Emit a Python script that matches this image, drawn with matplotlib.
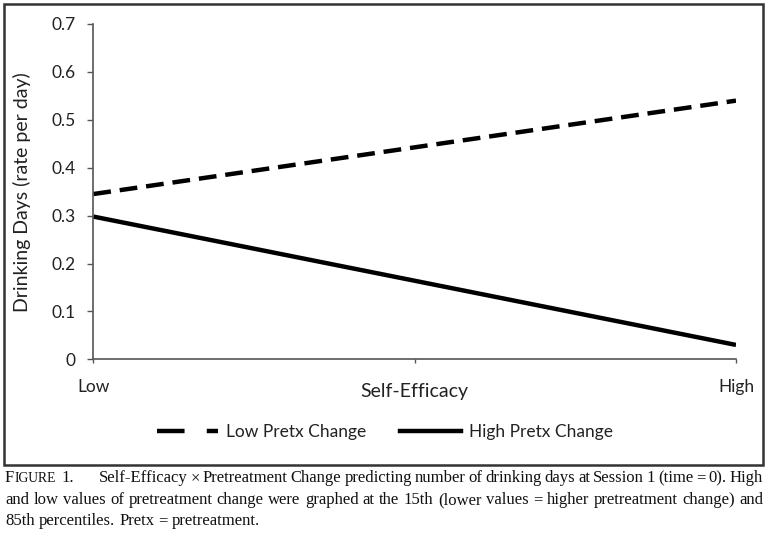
import matplotlib
matplotlib.use("Agg")
import matplotlib.pyplot as plt
from matplotlib.lines import Line2D
from matplotlib.patches import Rectangle

# data
x_labels = ["Low", "", "High"]
x_pos = [0.0, 0.5, 1.0]
efficacy = [0.0, 1.0]
low_pretx = [0.345, 0.540]
high_pretx = [0.298, 0.030]
y_ticks = [0, 0.1, 0.2, 0.3, 0.4, 0.5, 0.6, 0.7]
y_labels = ["0", "0.1", "0.2", "0.3", "0.4", "0.5", "0.6", "0.7"]

caption = [
    "Self-Efficacy \u00d7 Pretreatment Change predicting number of drinking days at Session 1 (time = 0). High",
    "and low values of pretreatment change were graphed at the 15th (lower values = higher pretreatment change) and",
    "85th percentiles. Pretx = pretreatment.",
]

SANS = "Lato"
SERIF = "Liberation Serif"
INK = "#222222"
W, H = 765, 534

fig = plt.figure(figsize=(W / 100, H / 100), dpi=100)
ax_h = 359.3 - 24
ax_w = 736 - 93.3
ax = fig.add_axes([93.3 / W, 1 - 359.3 / H, ax_w / W, ax_h / H])

ax.plot(efficacy, low_pretx, color="black", lw=3.2, dashes=(4.0, 2.0), solid_capstyle="butt")
ax.plot(efficacy, high_pretx, color="black", lw=3.2, solid_capstyle="butt")

ax.set_xlim(0, 1)
ax.set_ylim(0, 0.7)
ax.set_xticks(x_pos)
ax.set_xticklabels(x_labels, fontsize=12.5, family=SANS, color=INK)
ax.set_yticks(y_ticks)
ax.set_yticklabels(y_labels, fontsize=12.5, family=SANS, color=INK)
ax.tick_params(axis="y", length=4.5, width=1, color="#555555", pad=8)
ax.tick_params(axis="x", length=3, width=1, color="#555555", pad=11)
for side in ("top", "right"):
    ax.spines[side].set_visible(False)
for side in ("left", "bottom"):
    ax.spines[side].set_color("#555555")
    ax.spines[side].set_linewidth(1.2)

ax.set_xlabel("Self-Efficacy", fontsize=14, family=SANS, color=INK, va="center")
ax.xaxis.set_label_coords(0.5, (359.3 - 392) / ax_h)
ax.set_ylabel("Drinking Days (rate per day)", fontsize=14, family=SANS, color=INK, va="center")
ax.yaxis.set_label_coords((22 - 93.3) / ax_w, 0.5)

handles = [
    Line2D([], [], color="black", lw=3.2, dashes=(6.2, 5.0), solid_capstyle="butt"),
    Line2D([], [], color="black", lw=3.2),
]
fig.legend(handles, ["Low Pretx Change", "High Pretx Change"], loc="center",
           bbox_to_anchor=(385 / W, 1 - 432 / H), ncol=2, frameon=False,
           prop={"family": SANS, "size": 12.5}, handlelength=3.5, handletextpad=0.45,
           columnspacing=2.0, labelcolor=INK)

# frame around the chart
fig.patches.append(Rectangle((3.5 / W, 1 - 465 / H), 759.5 / W, 461.5 / H,
                             transform=fig.transFigure, fill=False,
                             edgecolor="#333333", lw=1.8))

# caption, justified like the printed page
renderer = fig.canvas.get_renderer()
x_left, x_right = 5.0, 763.0
line_y = [478, 500, 521]


def px_width(t):
    return t.get_window_extent(renderer).width


def place(txt, x, y, size):
    return fig.text(x / W, 1 - y / H, txt, family=SERIF, fontsize=size,
                    va="center", ha="left", color="#111111")


# size the serif so the longest line just fits with plain spaces
probe = place(caption[1], -2000, -100, 10)
cap_size = 10 * (x_right - x_left - 2) / px_width(probe)
probe.remove()

# "FIGURE 1." in small caps
t = place("F", x_left, line_y[0], cap_size)
xx = x_left + px_width(t) + 0.5
t = place("IGURE", xx, line_y[0], cap_size * 0.82)
xx += px_width(t) + 5
t = place("1.", xx, line_y[0], cap_size)
start0 = 99.0

for i, line in enumerate(caption):
    words = line.split(" ")
    x0 = start0 if i == 0 else x_left
    texts = [place(w, x0, line_y[i], cap_size) for w in words]
    widths = [px_width(tt) for tt in texts]
    if i < 2:
        gap = (x_right - x0 - sum(widths)) / (len(words) - 1)
    else:
        gap = cap_size * 100 / 72 * 0.25
    cur = x0
    for tt, wd in zip(texts, widths):
        tt.set_x(cur / W)
        cur += wd + gap

fig.savefig("out.png", dpi=100)
